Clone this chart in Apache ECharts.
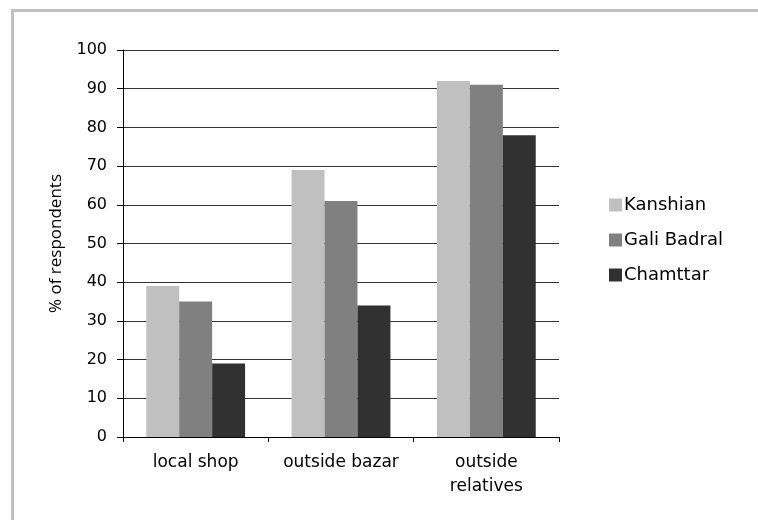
<!DOCTYPE html>
<html>
<head>
<meta charset="utf-8">
<script src="https://cdn.jsdelivr.net/npm/echarts@6/dist/echarts.min.js"></script>
<style>html,body{margin:0;padding:0;background:#fff;}#c{width:758px;height:520px;}</style>
</head>
<body>
<div id="c"></div>
<script>
const categories = ['local shop', 'outside bazar', 'outside\nrelatives'];
const seriesNames = ['Kanshian', 'Gali Badral', 'Chamttar'];
const kanshian = [39, 69, 92];
const galiBadral = [35, 61, 91];
const chamttar = [19, 34, 78];
const yTicks = [0, 10, 20, 30, 40, 50, 60, 70, 80, 90, 100];
const colors = ['#c0c0c0', '#808080', '#313131'];

const chart = echarts.init(document.getElementById('c'), null, {renderer: 'canvas'});
const values = [kanshian, galiBadral, chamttar];
chart.setOption({
  animation: false,
  backgroundColor: '#ffffff',
  graphic: [{
    type: 'rect', silent: true,
    shape: {x: 12.5, y: 10.5, width: 900, height: 700},
    style: {fill: 'none', stroke: '#c0c0c0', lineWidth: 3}
  }],
  grid: {left: 123, right: 199, top: 50, bottom: 83, containLabel: false},
  legend: {
    orient: 'vertical', left: 604, top: 191,
    itemWidth: 13, itemHeight: 13, itemGap: 17,
    icon: 'rect',
    textStyle: {fontFamily: 'DejaVu Sans', fontSize: 18, color: '#000', padding: [0,0,0,-3]},
    data: seriesNames
  },
  xAxis: {
    type: 'category', data: categories,
    axisLine: {lineStyle: {color: '#000', width: 1}},
    axisTick: {show: true, length: 5, lineStyle: {color: '#000'}},
    axisLabel: {interval: 0, fontFamily: 'DejaVu Sans', fontSize: 17, color: '#000', margin: 14, lineHeight: 24}
  },
  yAxis: {
    type: 'value', min: yTicks[0], max: yTicks[yTicks.length-1], interval: 10,
    name: '% of respondents', nameLocation: 'middle', nameGap: 58,
    nameTextStyle: {fontFamily: 'Open Sans', fontSize: 17, color: '#000'},
    axisLine: {show: true, lineStyle: {color: '#000', width: 1}},
    axisTick: {show: true, length: 6, lineStyle: {color: '#000'}},
    axisLabel: {fontFamily: 'DejaVu Sans', fontSize: 16, color: '#000', margin: 16},
    splitLine: {show: true, lineStyle: {color: '#333', width: 1}}
  },
  series: seriesNames.map((n, i) => ({
    name: n, type: 'bar', data: values[i],
    barGap: '0%', barCategoryGap: '32%',
    itemStyle: {color: colors[i]}
  }))
});
</script>
</body>
</html>
